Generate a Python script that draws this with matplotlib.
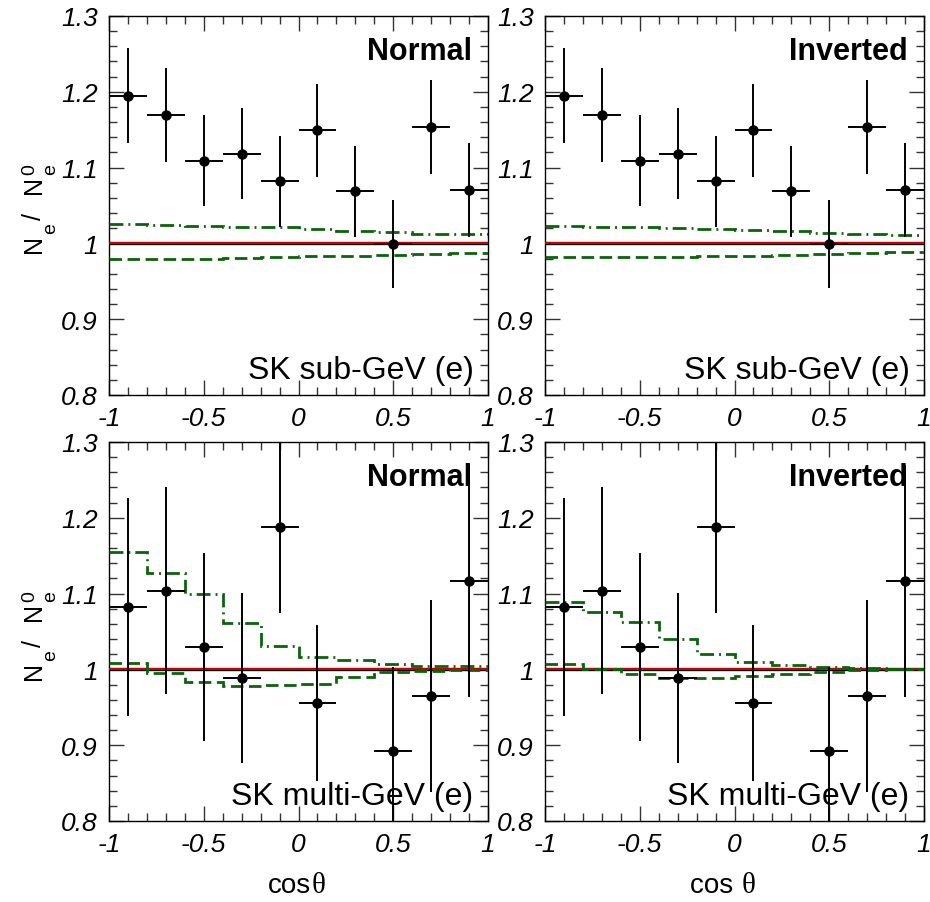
import numpy as np
import matplotlib
matplotlib.use("Agg")
import matplotlib.pyplot as plt
from matplotlib.ticker import FixedLocator, MultipleLocator
from matplotlib.transforms import IdentityTransform

# bins in cos(theta)
edges = np.linspace(-1, 1, 11)
centers = 0.5 * (edges[:-1] + edges[1:])

# SK sub-GeV (e) data
sub_y = [1.195, 1.170, 1.109, 1.118, 1.082, 1.149, 1.069, 0.999, 1.154, 1.070]
sub_err = [0.063, 0.062, 0.060, 0.060, 0.060, 0.061, 0.060, 0.058, 0.062, 0.062]

# SK multi-GeV (e) data (0.3 bin outside range)
multi_y = [1.082, 1.104, 1.030, 0.989, 1.188, 0.956, np.nan, 0.893, 0.965, 1.117]
multi_err = [0.144, 0.137, 0.124, 0.112, 0.114, 0.103, np.nan, 0.110, 0.127, 0.153]

# predictions (dash-dot / dashed)
sub_nh_dd = [1.025, 1.024, 1.023, 1.022, 1.021, 1.019, 1.017, 1.015, 1.013, 1.012]
sub_nh_da = [0.980, 0.980, 0.980, 0.981, 0.982, 0.983, 0.984, 0.985, 0.986, 0.987]
sub_ih_dd = [1.023, 1.022, 1.021, 1.020, 1.019, 1.018, 1.016, 1.014, 1.012, 1.011]
sub_ih_da = [0.982, 0.982, 0.982, 0.982, 0.983, 0.984, 0.985, 0.986, 0.987, 0.988]

multi_nh_dd = [1.155, 1.127, 1.100, 1.061, 1.031, 1.017, 1.012, 1.007, 1.005, 1.004]
multi_nh_da = [1.008, 0.995, 0.984, 0.978, 0.979, 0.981, 0.990, 0.996, 0.998, 0.999]
multi_ih_dd = [1.089, 1.076, 1.062, 1.040, 1.020, 1.010, 1.006, 1.003, 1.002, 1.001]
multi_ih_da = [1.007, 1.001, 0.994, 0.989, 0.989, 0.991, 0.994, 0.997, 0.999, 1.000]

ytick_vals = [0.8, 0.9, 1.0, 1.1, 1.2, 1.3]
ytick_labels = ["0.8", "0.9", "1", "1.1", "1.2", "1.3"]
xtick_vals = [-1, -0.5, 0, 0.5, 1]
xtick_labels = ["-1", "-0.5", "0", "0.5", "1"]

plt.rcParams["font.family"] = ["Liberation Sans", "DejaVu Sans"]

green = "#0b640b"
FIG_W, FIG_H = 930, 903

fig = plt.figure(figsize=(FIG_W / 100, FIG_H / 100), dpi=100)
W = 379 / FIG_W
H = 379 / FIG_H
positions = [
    (109 / FIG_W, 1 - 396 / FIG_H),
    (545 / FIG_W, 1 - 396 / FIG_H),
    (109 / FIG_W, 1 - 822 / FIG_H),
    (545 / FIG_W, 1 - 822 / FIG_H),
]

panels = [
    (sub_y, sub_err, sub_nh_dd, sub_nh_da, "Normal", "SK sub-GeV (e)"),
    (sub_y, sub_err, sub_ih_dd, sub_ih_da, "Inverted", "SK sub-GeV (e)"),
    (multi_y, multi_err, multi_nh_dd, multi_nh_da, "Normal", "SK multi-GeV (e)"),
    (multi_y, multi_err, multi_ih_dd, multi_ih_da, "Inverted", "SK multi-GeV (e)"),
]

for (x0, y0), (yv, ye, dd, da, hier, label) in zip(positions, panels):
    ax = fig.add_axes([x0, y0, W, H])
    ax.set_xlim(-1, 1)
    ax.set_ylim(0.8, 1.3)

    # reference line at 1
    ax.axhline(1.0, color="black", lw=2.4, zorder=2)
    ax.axhline(1.0, color="#e00000", lw=1.3, zorder=3)

    ax.stairs(dd, edges, baseline=None, color=green, lw=2,
              linestyle=(0, (5, 1.8, 0.7, 1.8)), zorder=4)
    ax.stairs(da, edges, baseline=None, color=green, lw=2,
              linestyle=(0, (4.5, 2)), zorder=4)

    ax.errorbar(centers, yv, yerr=ye, xerr=0.1, fmt="o", color="black",
                ms=6.5, elinewidth=1.4, capsize=0, zorder=5)

    ax.text(0.958, 0.887, hier, transform=ax.transAxes, ha="right",
            va="baseline", fontsize=22, fontweight="bold")
    ax.text(0.962, 0.045, label, transform=ax.transAxes, ha="right",
            va="baseline", fontsize=23)

    ax.xaxis.set_major_locator(FixedLocator(xtick_vals))
    ax.xaxis.set_minor_locator(MultipleLocator(0.1))
    ax.yaxis.set_major_locator(FixedLocator(ytick_vals))
    ax.yaxis.set_minor_locator(MultipleLocator(0.02))
    ax.set_xticklabels(xtick_labels, fontstyle="italic", fontsize=19)
    ax.set_yticklabels(ytick_labels, fontstyle="italic", fontsize=19)
    ax.tick_params(which="both", direction="in", top=True, right=True,
                   width=1, color="#333333")
    ax.tick_params(which="major", length=11, pad=8)
    ax.tick_params(which="minor", length=5.5)
    for s in ax.spines.values():
        s.set_linewidth(1.0)


def ptext(x, y, s, size, **kw):
    # text placed in image pixel coordinates (origin top-left)
    fig.text(x, FIG_H - y, s, transform=IdentityTransform(), fontsize=size, **kw)


# y axis labels: N_e / N_e^0, rotated, ROOT-style large sub/superscripts
rot = dict(rotation=90, rotation_mode="anchor", ha="left", va="baseline")
for dy in (0, 427):
    ptext(41, 253 + dy, "N", 18, **rot)
    ptext(55, 234 + dy, "e", 14, **rot)
    ptext(41, 220 + dy, "/", 18, **rot)
    ptext(41, 194 + dy, "N", 18, **rot)
    ptext(55, 175 + dy, "e", 14, **rot)
    ptext(34, 175 + dy, "0", 14, **rot)

# x axis labels: "cos" in sans, theta in serif
serif = ["Liberation Serif", "DejaVu Serif"]
ptext(311, 893, "cos", 20, ha="right", va="baseline")
ptext(312, 893, "θ", 21, ha="left", va="baseline", family=serif)
ptext(741, 893, "cos ", 20, ha="right", va="baseline")
ptext(742, 893, "θ", 21, ha="left", va="baseline", family=serif)

fig.savefig("out.png", dpi=100)
